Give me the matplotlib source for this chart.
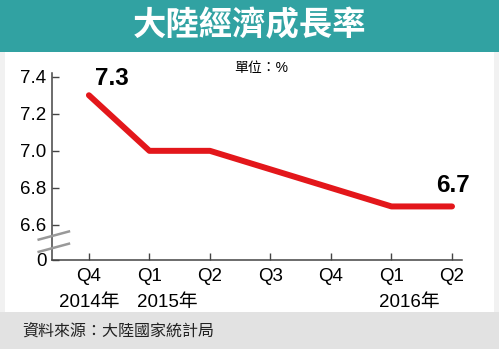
import matplotlib
matplotlib.use("Agg")
import matplotlib.pyplot as plt
from matplotlib.patches import Rectangle

plt.rcParams['font.family'] = ['Liberation Sans', 'Noto Sans CJK TC', 'DejaVu Sans']

quarters = ['Q4', 'Q1', 'Q2', 'Q3', 'Q4', 'Q1', 'Q2']
years = {0: '2014年', 1: '2015年', 5: '2016年'}
growth = [7.3, 7.0, 7.0, 6.9, 6.8, 6.7, 6.7]
ytick_vals = [6.411, 6.6, 6.8, 7.0, 7.2, 7.4]
ytick_labels = ['0', '6.6', '6.8', '7.0', '7.2', '7.4']

W, H = 499, 349
fig = plt.figure(figsize=(W / 100, H / 100), dpi=100, facecolor='#f1f1f1')

def px(x, y, w, h):
    return (x / W, 1 - (y + h) / H, w / W, h / H)

# background blocks
for (x, y, w, h), c in [((0, 0, 499, 52), '#31a2a2'),
                        ((5, 52, 489, 260), 'white'),
                        ((0, 312, 499, 37), '#e2e2e2')]:
    l, b, ww, hh = px(x, y, w, h)
    fig.patches.append(Rectangle((l, b), ww, hh, transform=fig.transFigure,
                                 facecolor=c, edgecolor='none', zorder=-5))

fig.text(250 / W, 1 - 26 / H, '大陸經濟成長率', color='white', fontsize=24,
         fontweight='bold', ha='center', va='center')
fig.text(261 / W, 1 - 68 / H, '單位：%', fontsize=10, ha='center', va='center')
fig.text(22 / W, 1 - 331 / H, '資料來源：大陸國家統計局', fontsize=11.5,
         ha='left', va='center', color='#222222')

ax = fig.add_axes(px(52, 73, 410, 187))
ax.set_zorder(5)
ax.set_facecolor('none')
x = list(range(len(growth)))
ax.plot(x, growth, color='#e3171b', lw=4.3, solid_capstyle='round',
        solid_joinstyle='round', zorder=3)

ax.set_xlim(-0.61, 6.165)
ax.set_ylim(6.411, 7.42)
ax.set_yticks(ytick_vals)
ax.set_yticklabels(ytick_labels)
ax.set_xticks(x)
ax.set_xticklabels(quarters)
ax.tick_params(direction='in', length=5, width=1, color='#444444',
               labelsize=13.5, pad=4)
ax.tick_params(axis='x', pad=6)
for s in ['top', 'right']:
    ax.spines[s].set_visible(False)
for s in ['left', 'bottom']:
    ax.spines[s].set_color('#444444')
    ax.spines[s].set_linewidth(1.1)

for i, t in years.items():
    ha = 'center' if i == 0 else 'left'
    xi = i if i == 0 else i - 0.2
    ax.text(xi, -0.225, t, transform=ax.get_xaxis_transform(), fontsize=13.5,
            ha=ha, va='center')

# axis break marks
for yb in [6.477, 6.543]:
    ax.plot([-0.83, -0.33], [yb - 0.022, yb + 0.022], color='#999999', lw=1.8,
            clip_on=False, zorder=4)

ax.text(0.1, 7.39, '7.3', fontsize=17.5, fontweight='bold', ha='left', va='center')
ax.text(5.73, 6.815, '6.7', fontsize=17.5, fontweight='bold', ha='left', va='center')

fig.savefig('out.png', dpi=100, facecolor=fig.get_facecolor())
